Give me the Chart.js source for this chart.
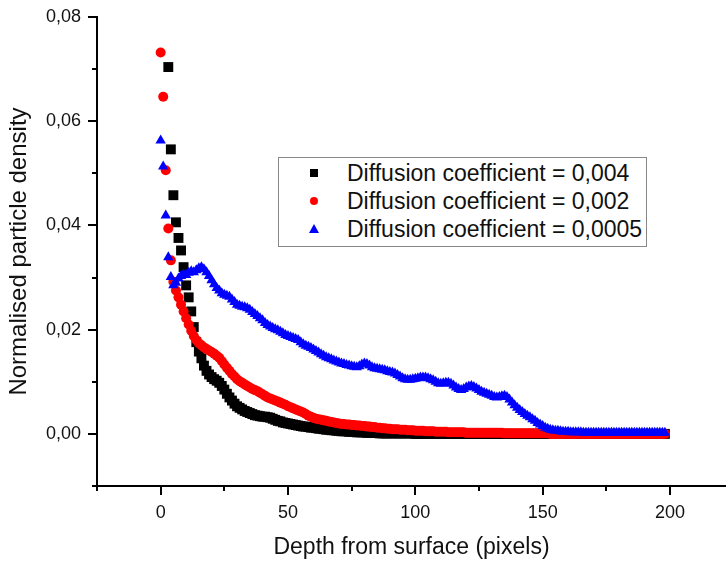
<!DOCTYPE html>
<html>
<head>
<meta charset="utf-8">
<script src="https://cdn.jsdelivr.net/npm/chart.js@4/dist/chart.umd.min.js"></script>
<style>
  body { margin: 0; background: #fff; }
  #wrap { position: relative; width: 726px; height: 561px; }
  #legend {
    position: absolute; left: 278px; top: 157px; width: 369px; height: 90px;
    box-sizing: border-box; border: 1px solid #888; background: #fff;
    padding-top: 1px; font-family: 'Liberation Sans', Arial, sans-serif; font-size: 23px; color: #111;
  }
  #legend .row { display: flex; align-items: center; height: 28px; white-space: nowrap; }
  #legend .mk { display: inline-block; margin-left: 30px; margin-right: 28px; width: 10px; height: 10px; position: relative; }
  .mk.sq::after { content: ''; position: absolute; left: 1px; top: 1px; width: 8px; height: 8px; background: #000; }
  .mk.ci::after { content: ''; position: absolute; left: 1px; top: 1px; width: 8px; height: 8px; border-radius: 50%; background: #f00; }
  .mk.tr::after { content: ''; position: absolute; left: 0; top: 0; width: 0; height: 0;
    border-left: 5px solid transparent; border-right: 5px solid transparent; border-bottom: 9px solid #00f; }
</style>
</head>
<body>
<div id="wrap">
  <canvas id="chart" width="726" height="561"></canvas>
  <div id="legend"></div>
</div>
<script>
// depth (pixels) of each sample
const depths = [
  0,1,2,3,4,5,6,7,8,9, 10,11,12,13,14,15,16,17,18,19,
  20,21,22,23,24,25,26,27,28,29, 30,31,32,33,34,35,36,37,38,39,
  40,41,42,43,44,45,46,47,48,49, 50,51,52,53,54,55,56,57,58,59,
  60,61,62,63,64,65,66,67,68,69, 70,71,72,73,74,75,76,77,78,79,
  80,81,82,83,84,85,86,87,88,89, 90,91,92,93,94,95,96,97,98,99,
  100,101,102,103,104,105,106,107,108,109, 110,111,112,113,114,115,116,117,118,119,
  120,121,122,123,124,125,126,127,128,129, 130,131,132,133,134,135,136,137,138,139,
  140,141,142,143,144,145,146,147,148,149, 150,151,152,153,154,155,156,157,158,159,
  160,161,162,163,164,165,166,167,168,169, 170,171,172,173,174,175,176,177,178,179,
  180,181,182,183,184,185,186,187,188,189, 190,191,192,193,194,195,196,197,198
];

const seriesNames = ['Diffusion coefficient = 0,004', 'Diffusion coefficient = 0,002', 'Diffusion coefficient = 0,0005'];
const seriesColors = ['#000000', '#ff0000', '#0000ff'];

// D = 0,004 (first points are above the axis)
const densA = [
  null, null, null, 0.0704, 0.0546, 0.0458, 0.0406, 0.0376, 0.0352, 0.0320,
  0.0285, 0.0262, 0.0235, 0.0205, 0.0176, 0.0158, 0.0145, 0.0131, 0.0121, 0.0114,
  0.0109, 0.0105, 0.0102, 0.0098, 0.0092, 0.0085, 0.0077, 0.0070, 0.0064, 0.0058,
  0.0053, 0.0050, 0.0047, 0.0044, 0.0042, 0.0040, 0.0038, 0.0036, 0.0035, 0.0034,
  0.0033, 0.0033, 0.0032, 0.0031, 0.0029, 0.0027, 0.0025, 0.0024, 0.0022, 0.0021,
  0.0020, 0.0019, 0.0018, 0.0017, 0.0016, 0.0015, 0.0014, 0.0014, 0.0013, 0.0012,
  0.0012, 0.0011, 0.0010, 0.0010, 0.0009, 0.0008, 0.0008, 0.0007, 0.0007, 0.0006,
  0.0006, 0.0005, 0.0005, 0.0005, 0.0004, 0.0004, 0.0004, 0.0003, 0.0003, 0.0003,
  0.0003, 0.0002, 0.0002, 0.0002, 0.0002, 0.0002, 0.0001, 0.0001, 0.0001, 0.0001,
  0.0001, 0.0001, 0.0001, 0.0001, 0.0001, 0.0001, 0.0001, 0.0001, 0.0001, 0.0001,
  0, 0, 0, 0, 0, 0, 0, 0, 0, 0,
  0, 0, 0, 0, 0, 0, 0, 0, 0, 0,
  0, 0, 0, 0, 0, 0, 0, 0, 0, 0,
  0, 0, 0, 0, 0, 0, 0, 0, 0, 0,
  0, 0, 0, 0, 0, 0, 0, 0, 0, 0,
  0, 0, 0, 0, 0, 0, 0, 0, 0, 0,
  0, 0, 0, 0, 0, 0, 0, 0, 0, 0,
  0, 0, 0, 0, 0, 0, 0, 0, 0, 0,
  0, 0, 0, 0, 0, 0, 0, 0, 0, 0,
  0, 0, 0, 0, 0, 0, 0, 0, 0
];

// D = 0,002
const densB = [
  0.0732, 0.0647, 0.0506, 0.0394, 0.0333, 0.0292, 0.0275, 0.0262, 0.0248, 0.0235,
  0.0222, 0.0210, 0.0198, 0.0188, 0.0180, 0.0174, 0.0170, 0.0166, 0.0163, 0.0160,
  0.0157, 0.0154, 0.0150, 0.0146, 0.0140, 0.0133, 0.0127, 0.0121, 0.0115, 0.0110,
  0.0105, 0.0101, 0.0098, 0.0095, 0.0092, 0.0089, 0.0086, 0.0084, 0.0082, 0.0079,
  0.0076, 0.0073, 0.0070, 0.0068, 0.0066, 0.0064, 0.0062, 0.0060, 0.0058, 0.0056,
  0.0053, 0.0051, 0.0049, 0.0047, 0.0045, 0.0043, 0.0041, 0.0038, 0.0035, 0.0033,
  0.0031, 0.0029, 0.0028, 0.0027, 0.0026, 0.0025, 0.0024, 0.0023, 0.0022, 0.0021,
  0.0020, 0.0019, 0.0019, 0.0018, 0.0018, 0.0017, 0.0017, 0.0016, 0.0016, 0.0015,
  0.0015, 0.0014, 0.0014, 0.0013, 0.0013, 0.0012, 0.0012, 0.0011, 0.0011, 0.0010,
  0.0010, 0.0009, 0.0009, 0.0009, 0.0008, 0.0008, 0.0008, 0.0007, 0.0007, 0.0007,
  0.0006, 0.0006, 0.0006, 0.0006, 0.0005, 0.0005, 0.0005, 0.0005, 0.0004, 0.0004,
  0.0004, 0.0004, 0.0004, 0.0003, 0.0003, 0.0003, 0.0003, 0.0003, 0.0003, 0.0003,
  0.0002, 0.0002, 0.0002, 0.0002, 0.0002, 0.0002, 0.0002, 0.0002, 0.0002, 0.0002,
  0.0002, 0.0002, 0.0002, 0.0002, 0.0002, 0.0001, 0.0001, 0.0001, 0.0001, 0.0001,
  0.0001, 0.0001, 0.0001, 0.0001, 0.0001, 0.0001, 0.0001, 0.0001, 0.0001, 0.0001,
  0.0001, 0.0001, 0.0001, 0, 0, 0, 0, 0, 0, 0,
  0, 0, 0, 0, 0, 0, 0, 0, 0, 0,
  0, 0, 0, 0, 0, 0, 0, 0, 0, 0,
  0, 0, 0, 0, 0, 0, 0, 0, 0, 0,
  0, 0, 0, 0, 0, 0, 0, 0, 0
];

// D = 0,0005
const densC = [
  0.0563, 0.0513, 0.0419, 0.0339, 0.0301, 0.0285, 0.0290, 0.0298, 0.0303, 0.0306,
  0.0305, 0.0309, 0.0312, 0.0310, 0.0314, 0.0318, 0.0320, 0.0316, 0.0310, 0.0303,
  0.0295, 0.0287, 0.0280, 0.0275, 0.0270, 0.0267, 0.0265, 0.0263, 0.0258, 0.0253,
  0.0248, 0.0246, 0.0244, 0.0243, 0.0241, 0.0238, 0.0234, 0.0230, 0.0226, 0.0222,
  0.0218, 0.0213, 0.0209, 0.0206, 0.0203, 0.0201, 0.0199, 0.0196, 0.0193, 0.0190,
  0.0188, 0.0186, 0.0184, 0.0182, 0.0180, 0.0176, 0.0172, 0.0169, 0.0167, 0.0165,
  0.0162, 0.0159, 0.0156, 0.0153, 0.0150, 0.0147, 0.0145, 0.0143, 0.0141, 0.0139,
  0.0137, 0.0135, 0.0134, 0.0132, 0.0131, 0.0130, 0.0129, 0.0128, 0.0130, 0.0133,
  0.0135, 0.0134, 0.0131, 0.0128, 0.0126, 0.0125, 0.0124, 0.0123, 0.0122, 0.0120,
  0.0119, 0.0118, 0.0116, 0.0113, 0.0110, 0.0107, 0.0105, 0.0104, 0.0104, 0.0105,
  0.0106, 0.0107, 0.0108, 0.0108, 0.0108, 0.0107, 0.0105, 0.0103, 0.0100, 0.0097,
  0.0096, 0.0097, 0.0098, 0.0098, 0.0096, 0.0093, 0.0089, 0.0086, 0.0084, 0.0086,
  0.0089, 0.0091, 0.0092, 0.0090, 0.0087, 0.0084, 0.0081, 0.0079, 0.0077, 0.0075,
  0.0073, 0.0071, 0.0070, 0.0071, 0.0072, 0.0073, 0.0071, 0.0066, 0.0060, 0.0055,
  0.0050, 0.0046, 0.0042, 0.0038, 0.0035, 0.0032, 0.0028, 0.0025, 0.0021, 0.0018,
  0.0015, 0.0012, 0.0010, 0.0008, 0.0007, 0.0006, 0.0006, 0.0005, 0.0004, 0.0004,
  0.0004, 0.0003, 0.0003, 0.0003, 0.0003, 0.0003, 0.0002, 0.0002, 0.0002, 0.0002,
  0.0002, 0.0002, 0.0002, 0.0002, 0.0002, 0.0002, 0.0002, 0.0002, 0.0002, 0.0002,
  0.0002, 0.0002, 0.0002, 0.0002, 0.0002, 0.0002, 0.0002, 0.0002, 0.0002, 0.0002,
  0.0002, 0.0002, 0.0002, 0.0002, 0.0002, 0.0002, 0.0002, 0.0002, 0.0002
];

const FONT = "'Liberation Sans', Arial, sans-serif";

function toPoints(vals) {
    const pts = [];
    vals.forEach((v, i) => { if (v !== null) pts.push({ x: depths[i], y: v }); });
    return pts;
}

// tick marks outside the axes: long at labelled values, short in between
const tickMarks = {
    id: 'tickMarks',
    afterDraw(chart) {
        const ctx = chart.ctx;
        const xs = chart.scales.x, ys = chart.scales.y;
        ctx.save();
        ctx.strokeStyle = '#000';
        ctx.lineWidth = 2;
        ctx.beginPath();
        xs.ticks.forEach(t => {
            const px = Math.round(xs.getPixelForValue(t.value));
            const len = t.value % 50 === 0 ? 9 : 5;
            ctx.moveTo(px, xs.top); ctx.lineTo(px, xs.top + len);
        });
        ys.ticks.forEach(t => {
            const py = Math.round(ys.getPixelForValue(t.value));
            const len = Math.round(t.value * 100) % 2 === 0 ? 9 : 5;
            ctx.moveTo(ys.right, py); ctx.lineTo(ys.right - len, py);
        });
        ctx.stroke();
        ctx.restore();
    }
};

const styles = [
    { pointStyle: 'rect', pointRadius: 7, order: 3 },
    { pointStyle: 'circle', pointRadius: 5, order: 2 },
    { pointStyle: 'triangle', pointRadius: 6, order: 1 }
];

const datasets = [densA, densB, densC].map((vals, i) => ({
    label: seriesNames[i],
    data: toPoints(vals),
    backgroundColor: seriesColors[i],
    borderColor: seriesColors[i],
    borderWidth: 0,
    pointStyle: styles[i].pointStyle,
    pointRadius: styles[i].pointRadius,
    order: styles[i].order,
    showLine: false
}));

new Chart(document.getElementById('chart'), {
    type: 'scatter',
    data: { datasets },
    options: {
        responsive: false,
        animation: false,
        devicePixelRatio: 1,
        // no auto padding for the markers: the x axis runs to the picture's edge
        layout: { autoPadding: false, padding: { top: 17, right: 0, left: 0, bottom: 0 } },
        plugins: { legend: { display: false }, tooltip: { enabled: false } },
        scales: {
            x: {
                type: 'linear',
                min: -25, max: 222,
                grid: { display: false, drawTicks: true, tickLength: 16 },
                border: { display: true, color: '#000', width: 2 },
                ticks: {
                    stepSize: 25, includeBounds: false, padding: 0, color: '#111',
                    font: { family: FONT, size: 18 }, maxRotation: 0, autoSkip: false,
                    callback: v => (v % 50 === 0 ? String(v) : '')
                },
                title: { display: true, text: 'Depth from surface (pixels)', color: '#111',
                         font: { family: FONT, size: 23 }, padding: { top: 0, bottom: 0 } },
                afterFit: s => { s.height = 75; s.paddingLeft = 0; s.paddingRight = 0; }
            },
            y: {
                min: -0.01, max: 0.08,
                grid: { display: false, drawTicks: true, tickLength: 16 },
                border: { display: true, color: '#000', width: 2 },
                ticks: {
                    stepSize: 0.01, padding: 0, color: '#111', autoSkip: false,
                    font: { family: FONT, size: 18 },
                    callback: v => {
                        const k = Math.round(v * 100);
                        return (k >= 0 && k % 2 === 0) ? (k / 100).toFixed(2).replace('.', ',') : '';
                    }
                },
                title: { display: true, text: 'Normalised particle density', color: '#111',
                         font: { family: FONT, size: 24 }, padding: { top: 5, bottom: 0 } },
                afterFit: s => { s.width = 97; }
            }
        }
    },
    plugins: [tickMarks]
});

// legend box inside the plot
const markerClass = ['sq', 'ci', 'tr'];
const legend = document.getElementById('legend');
seriesNames.forEach((name, i) => {
    const row = document.createElement('div');
    row.className = 'row';
    row.innerHTML = `<span class="mk ${markerClass[i]}"></span><span>${name}</span>`;
    legend.appendChild(row);
});
</script>
</body>
</html>
